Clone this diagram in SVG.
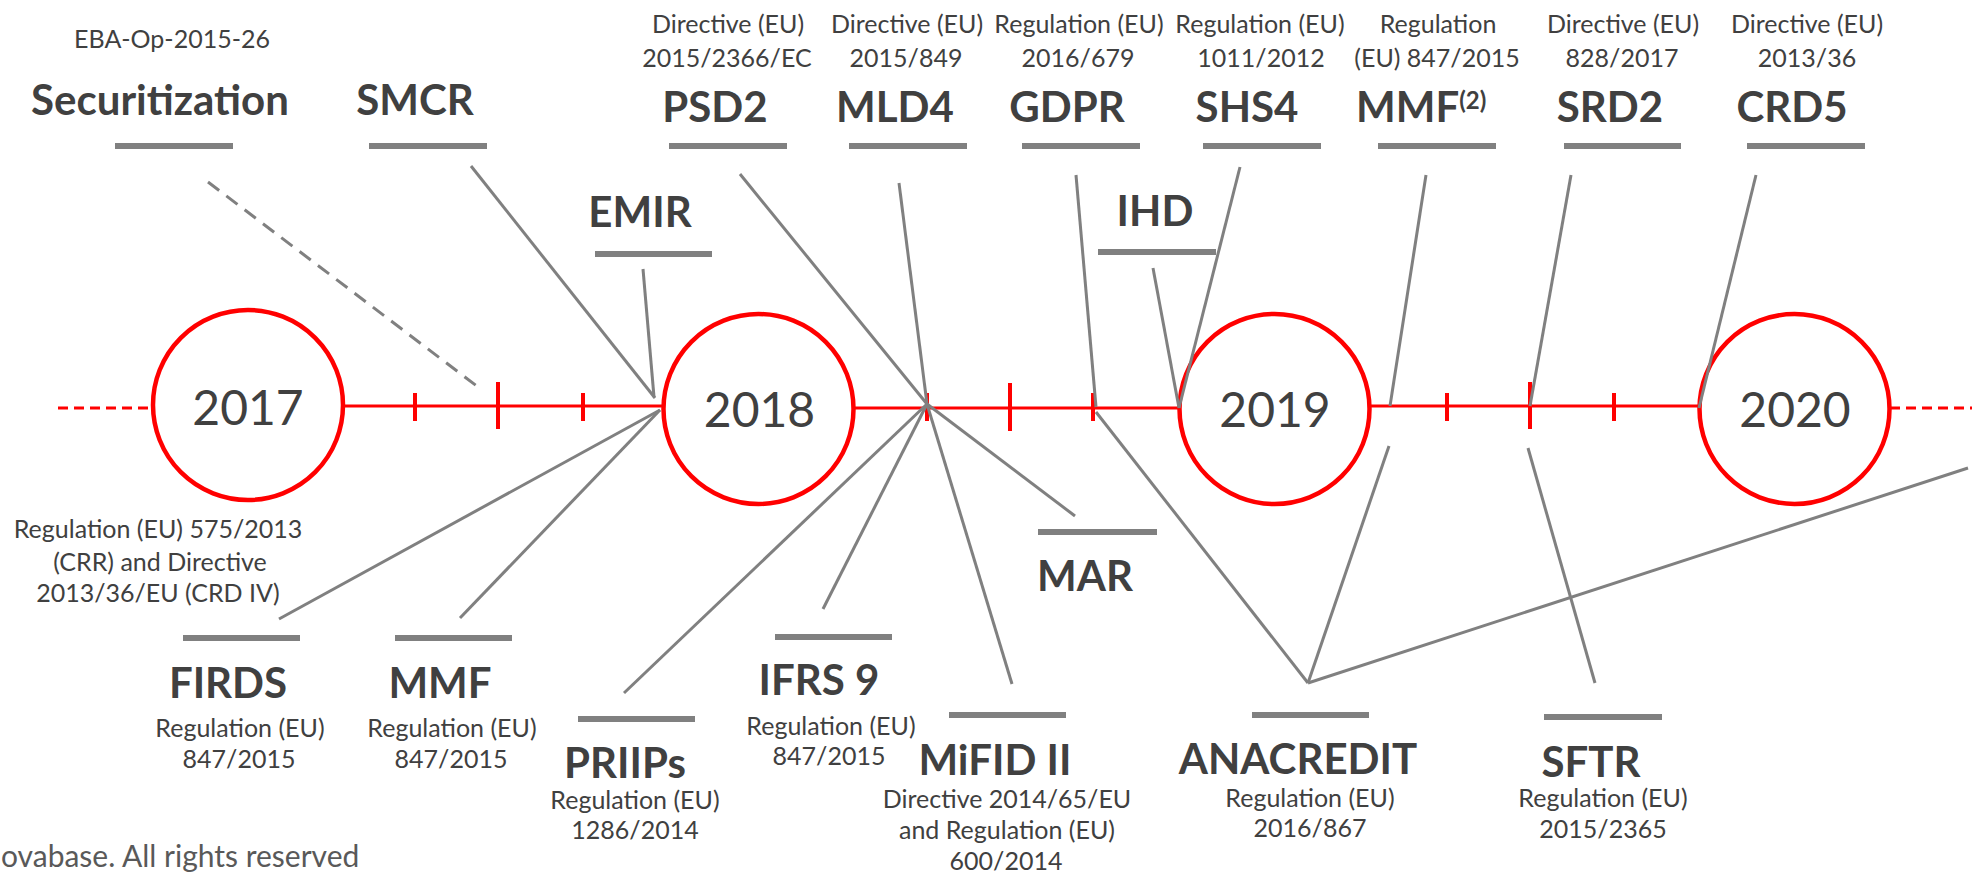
<svg xmlns="http://www.w3.org/2000/svg" width="1972" height="874" viewBox="0 0 1972 874">
<style>
.big{font-family:Lato,"Liberation Sans",sans-serif;font-weight:bold;font-size:42px;fill:#404040;text-anchor:middle}
.sm{font-family:Lato,"Liberation Sans",sans-serif;font-size:25px;fill:#404040;text-anchor:middle}
.yr{font-family:Lato,"Liberation Sans",sans-serif;font-size:48px;fill:#404040;text-anchor:middle}
.bar{fill:#808080}
.con{stroke:#808080;stroke-width:3;fill:none}
.red{stroke:#ff0000;stroke-width:3;fill:none}
.tick{stroke:#ff0000;stroke-width:4}
.yc{stroke:#ff0000;stroke-width:4.5;fill:#fff}
</style>
<rect width="1972" height="874" fill="#fff"/>
<g id="timeline">
<line class="red" x1="58" y1="408" x2="152" y2="408" stroke-dasharray="10 6"/>
<line class="red" x1="343" y1="406" x2="663" y2="406"/>
<line class="red" x1="854" y1="408" x2="1180" y2="408"/>
<line class="red" x1="1369" y1="406" x2="1699" y2="406"/>
<line class="red" x1="1890" y1="408" x2="1972" y2="408" stroke-dasharray="10 6"/>
<line class="tick" x1="415" y1="393" x2="415" y2="421"/>
<line class="tick" x1="498" y1="382" x2="498" y2="429"/>
<line class="tick" x1="583" y1="393" x2="583" y2="421"/>
<line class="tick" x1="927" y1="393" x2="927" y2="421"/>
<line class="tick" x1="1010" y1="383" x2="1010" y2="431"/>
<line class="tick" x1="1093" y1="393" x2="1093" y2="421"/>
<line class="tick" x1="1447" y1="393" x2="1447" y2="421"/>
<line class="tick" x1="1530" y1="382" x2="1530" y2="429"/>
<line class="tick" x1="1614" y1="393" x2="1614" y2="421"/>
</g>
<g id="y2017"><circle class="yc" cx="248" cy="405" r="95"/><text class="yr" x="248" y="425">2017</text></g>
<g id="y2018"><circle class="yc" cx="758.5" cy="409" r="95"/><text class="yr" x="759.5" y="427">2018</text></g>
<g id="y2019"><circle class="yc" cx="1274.5" cy="409" r="95"/><text class="yr" x="1275" y="427">2019</text></g>
<g id="y2020"><circle class="yc" cx="1794.5" cy="409" r="95"/><text class="yr" x="1795" y="427">2020</text></g>
<g id="connectors">
<line class="con" x1="208" y1="182" x2="482" y2="390" stroke-dasharray="14 9"/>
<line class="con" x1="471" y1="166" x2="655" y2="398"/>
<line class="con" x1="643" y1="269" x2="654" y2="397"/>
<line class="con" x1="660" y1="410" x2="279" y2="619"/>
<line class="con" x1="660" y1="410" x2="460" y2="618"/>
<line class="con" x1="927" y1="404" x2="624" y2="693"/>
<line class="con" x1="927" y1="404" x2="823" y2="609"/>
<line class="con" x1="927" y1="404" x2="1012" y2="684"/>
<line class="con" x1="927" y1="404" x2="1075" y2="516"/>
<line class="con" x1="740" y1="174" x2="927" y2="404"/>
<line class="con" x1="899" y1="183" x2="927" y2="404"/>
<line class="con" x1="1076" y1="175" x2="1096" y2="407"/>
<line class="con" x1="1096" y1="412" x2="1308" y2="683"/>
<line class="con" x1="1153" y1="268" x2="1179" y2="408"/>
<line class="con" x1="1240" y1="167" x2="1179" y2="408"/>
<line class="con" x1="1426" y1="175" x2="1390" y2="406"/>
<line class="con" x1="1389" y1="446" x2="1308" y2="683"/>
<line class="con" x1="1571" y1="175" x2="1530" y2="406"/>
<line class="con" x1="1528" y1="448" x2="1595" y2="683"/>
<line class="con" x1="1756" y1="175" x2="1699" y2="408"/>
<line class="con" x1="1308" y1="683" x2="1968" y2="468"/>
</g>
<g id="securitization"><text class="sm" x="172" y="48">EBA-Op-2015-26</text><text class="big" x="160" y="115">Securitization</text><rect class="bar" x="115" y="143" width="118" height="6"/></g>
<g id="smcr"><text class="big" x="415" y="115">SMCR</text><rect class="bar" x="369" y="143" width="118" height="6"/></g>
<g id="emir"><text class="big" x="640" y="227">EMIR</text><rect class="bar" x="595" y="251" width="117" height="6"/></g>
<g id="psd2"><text class="sm" x="728" y="33">Directive (EU)</text><text class="sm" x="727" y="67">2015/2366/EC</text><text class="big" x="715" y="122">PSD2</text><rect class="bar" x="669" y="143" width="118" height="6"/></g>
<g id="mld4"><text class="sm" x="907" y="33">Directive  (EU)</text><text class="sm" x="906" y="67">2015/849</text><text class="big" x="895" y="122">MLD4</text><rect class="bar" x="849" y="143" width="118" height="6"/></g>
<g id="gdpr"><text class="sm" x="1079" y="33">Regulation (EU)</text><text class="sm" x="1078" y="67">2016/679</text><text class="big" x="1067" y="122">GDPR</text><rect class="bar" x="1022" y="143" width="118" height="6"/></g>
<g id="ihd"><text class="big" x="1155" y="226">IHD</text><rect class="bar" x="1098" y="249" width="118" height="6"/></g>
<g id="shs4"><text class="sm" x="1260" y="33">Regulation (EU)</text><text class="sm" x="1261" y="67">1011/2012</text><text class="big" x="1247" y="122">SHS4</text><rect class="bar" x="1203" y="143" width="118" height="6"/></g>
<g id="mmf2"><text class="sm" x="1438" y="33">Regulation</text><text class="sm" x="1437" y="67">(EU) 847/2015</text><text class="big" x="1356" y="122" style="text-anchor:start">MMF<tspan font-size="24" dy="-13">(2)</tspan></text><rect class="bar" x="1378" y="143" width="118" height="6"/></g>
<g id="srd2"><text class="sm" x="1623" y="33">Directive (EU)</text><text class="sm" x="1622" y="67">828/2017</text><text class="big" x="1610" y="122">SRD2</text><rect class="bar" x="1564" y="143" width="117" height="6"/></g>
<g id="crd5"><text class="sm" x="1807" y="33">Directive (EU)</text><text class="sm" x="1807" y="67">2013/36</text><text class="big" x="1792" y="122">CRD5</text><rect class="bar" x="1747" y="143" width="118" height="6"/></g>
<g id="crr"><text class="sm" x="158" y="538">Regulation (EU)  575/2013</text><text class="sm" x="160" y="571">(CRR) and Directive</text><text class="sm" x="158" y="602">2013/36/EU (CRD IV)</text></g>
<g id="firds"><rect class="bar" x="183" y="635" width="117" height="6"/><text class="big" x="228" y="698">FIRDS</text><text class="sm" x="240" y="737">Regulation (EU)</text><text class="sm" x="239" y="768">847/2015</text></g>
<g id="mmf"><rect class="bar" x="395" y="635" width="117" height="6"/><text class="big" x="440" y="698">MMF</text><text class="sm" x="452" y="737">Regulation (EU)</text><text class="sm" x="451" y="768">847/2015</text></g>
<g id="priips"><rect class="bar" x="578" y="716" width="117" height="6"/><text class="big" x="625" y="778">PRIIPs</text><text class="sm" x="635" y="809">Regulation (EU)</text><text class="sm" x="635" y="839">1286/2014</text></g>
<g id="ifrs9"><rect class="bar" x="775" y="634" width="117" height="6"/><text class="big" x="819" y="695">IFRS 9</text><text class="sm" x="831" y="735">Regulation (EU)</text><text class="sm" x="829" y="765">847/2015</text></g>
<g id="mifid"><rect class="bar" x="949" y="712" width="117" height="6"/><text class="big" x="995" y="775">MiFID II</text><text class="sm" x="1007" y="808">Directive 2014/65/EU</text><text class="sm" x="1007" y="839">and Regulation (EU)</text><text class="sm" x="1006" y="870">600/2014</text></g>
<g id="mar"><rect class="bar" x="1038" y="529" width="119" height="6"/><text class="big" x="1085" y="591">MAR</text></g>
<g id="anacredit"><rect class="bar" x="1252" y="712" width="117" height="6"/><text class="big" x="1298" y="774">ANACREDIT</text><text class="sm" x="1310" y="807">Regulation (EU)</text><text class="sm" x="1310" y="837">2016/867</text></g>
<g id="sftr"><rect class="bar" x="1544" y="714" width="118" height="6"/><text class="big" x="1591" y="777">SFTR</text><text class="sm" x="1603" y="807">Regulation (EU)</text><text class="sm" x="1603" y="838">2015/2365</text></g>
<g id="footer"><text x="1" y="867" style="font-family:Lato,'Liberation Sans',sans-serif;font-size:30px;fill:#595959">ovabase. All rights reserved</text></g>
</svg>
